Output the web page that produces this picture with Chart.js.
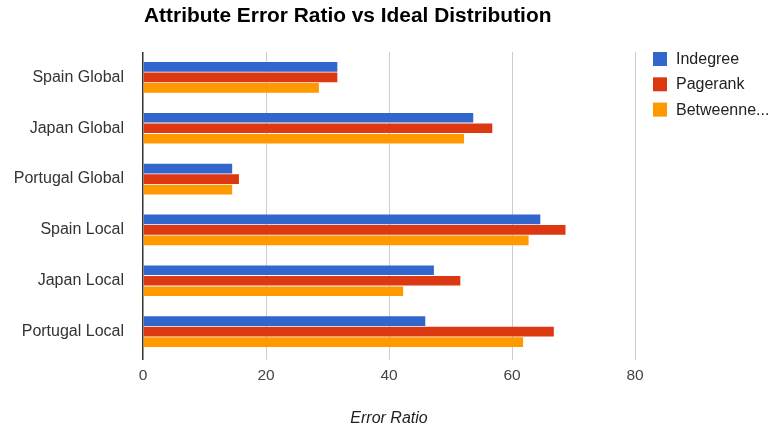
<!DOCTYPE html>
<html>
<head>
<meta charset="utf-8">
<script src="https://cdn.jsdelivr.net/npm/chart.js@4"></script>
<style>
  html, body { margin: 0; padding: 0; background: #fff; }
  #wrap { width: 770px; height: 429px; }
</style>
</head>
<body>
<div id="wrap"><canvas id="chart" width="770" height="429"></canvas></div>
<script>
const categories = ['Spain Global', 'Japan Global', 'Portugal Global', 'Spain Local', 'Japan Local', 'Portugal Local'];
const seriesNames = ['Indegree', 'Pagerank', 'Betweenness'];
const indegree = [31.6, 53.7, 14.5, 64.6, 47.3, 45.9];
const pagerank = [31.6, 56.8, 15.6, 68.7, 51.6, 66.8];
const betweenness = [28.6, 52.2, 14.5, 62.7, 42.3, 61.8];
const xTicks = [0, 20, 40, 60, 80];
const colors = ['#3366cc', '#dc3912', '#ff9900'];

const FONT = '"Liberation Sans", Arial, sans-serif';

// title + legend drawn google-style
const extras = {
  id: 'extras',
  afterDraw(chart) {
    const ctx = chart.ctx;
    const area = chart.chartArea;
    ctx.save();
    ctx.fillStyle = '#000';
    ctx.font = 'bold 20.9px ' + FONT;
    ctx.textBaseline = 'middle';
    ctx.fillText('Attribute Error Ratio vs Ideal Distribution', area.left + 1, 16.5);

    ctx.font = '16px ' + FONT;
    chart.data.datasets.forEach((ds, i) => {
      const y = 59 + i * 25.3;
      ctx.fillStyle = ds.backgroundColor;
      ctx.fillRect(653, y - 7, 14, 14);
      let txt = ds.label;
      const maxW = 94;
      if (ctx.measureText(txt).width > maxW) {
        while (txt.length && ctx.measureText(txt + '...').width > maxW) txt = txt.slice(0, -1);
        txt += '...';
      }
      ctx.fillStyle = '#222';
      ctx.fillText(txt, 676, y + 0.5);
    });
    ctx.restore();
  }
};

new Chart(document.getElementById('chart'), {
  type: 'bar',
  data: {
    labels: categories,
    datasets: [
      { label: seriesNames[0], data: indegree, backgroundColor: colors[0] },
      { label: seriesNames[1], data: pagerank, backgroundColor: colors[1] },
      { label: seriesNames[2], data: betweenness, backgroundColor: colors[2] }
    ]
  },
  options: {
    indexAxis: 'y',
    responsive: false,
    animation: false,
    categoryPercentage: 0.62,
    barPercentage: 0.92,
    layout: { padding: { top: 52, right: 135, left: 0, bottom: 0 } },
    plugins: {
      legend: { display: false },
      title: { display: false },
      tooltip: { enabled: false }
    },
    scales: {
      x: {
        min: 0,
        max: 80,
        afterBuildTicks(scale) { scale.ticks = xTicks.map(v => ({ value: v })); },
        afterFit(scale) { scale.height = 72; },
        grid: {
          color: ctx => ctx.tick && ctx.tick.value === 0 ? '#333' : '#cccccc',
          lineWidth: ctx => ctx.tick && ctx.tick.value === 0 ? 1.5 : 1,
          tickLength: 3,
          drawTicks: true
        },
        border: { display: false },
        ticks: { color: '#444', padding: 6, font: { family: FONT, size: 15.5 } },
        title: {
          display: true,
          text: 'Error Ratio',
          color: '#222',
          padding: { top: 20, bottom: 1 },
          font: { family: FONT, size: 16, style: 'italic' }
        }
      },
      y: {
        afterFit(scale) { scale.width = 143; },
        grid: { display: false },
        border: { display: false },
        ticks: { color: '#333', padding: 11, font: { family: FONT, size: 16 } }
      }
    }
  },
  plugins: [extras]
});
</script>
</body>
</html>
